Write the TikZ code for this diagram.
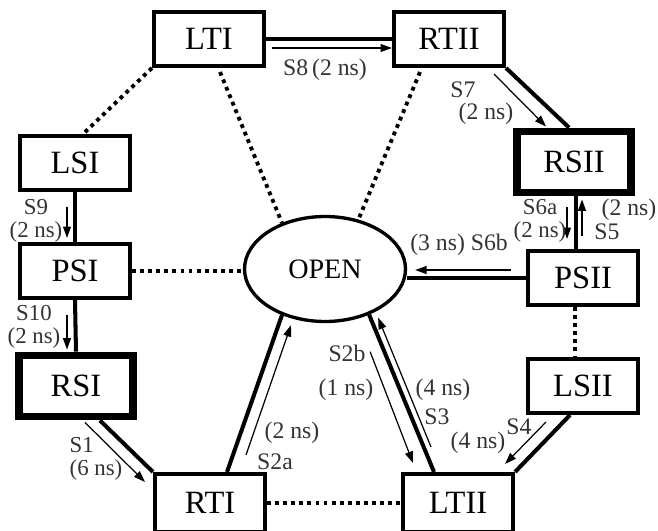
\documentclass[tikz,border=0pt]{standalone}
\usepackage{fontspec}
\setmainfont{Liberation Serif}
\usetikzlibrary{shapes.geometric,arrows.meta,calc}

\begin{document}
\begin{tikzpicture}[x=0.02cm, y=-0.02cm,
    tbox/.style={rectangle, draw=black, line width=2.3pt, minimum width=2.2cm, minimum height=1.08cm, inner sep=0pt, font=\fontsize{18.5}{20}\selectfont},
    rbox/.style={tbox, line width=4.5pt, minimum width=2.28cm, minimum height=1.22cm},
    hub/.style={ellipse, draw=black, line width=1.9pt, minimum width=3.22cm, minimum height=2.1cm, inner sep=0pt, font=\fontsize{16}{18}\selectfont},
    link/.style={line width=2.3pt},
    dotlink/.style={line width=2.2pt, dash pattern=on 2.2pt off 2.4pt},
    trans/.style={-{Triangle[length=6.5pt,width=4.5pt]}, line width=0.7pt},
    lbl/.style={font=\fontsize{13.5}{15}\selectfont, text=black!80, inner sep=0pt},
    lbl2/.style={lbl, align=center, font=\fontsize{13}{13}\selectfont}
]
\useasboundingbox (0,0) rectangle (658,530);
\clip (0,0) rectangle (658,530);

% states
\node[tbox] (LTI) at (209,39) {LTI};
\node[tbox] (RTII) at (449,39) {RTII};
\node[tbox] (LSI) at (75,163) {LSI};
\node[rbox] (RSII) at (574,162) {RSII};
\node[tbox] (PSI) at (75,271) {PSI};
\node[tbox] (PSII) at (583,278) {PSII};
\node[rbox] (RSI) at (76,386) {RSI};
\node[tbox] (LSII) at (583,386) {LSII};
\node[tbox, minimum height=1.16cm] (RTI) at (210,503) {RTI};
\node[tbox, minimum height=1.16cm] (LTII) at (458,503) {LTII};
\node[hub] (OPEN) at (325,269) {OPEN};

% solid paths
\draw[link] (LTI.east) -- (RTII.west);
\draw[link] (RTII.south east) -- ($(RSII.north)+(-5,0)$);
\draw[link] ($(RSII.south)+(2,0)$) -- ($(PSII.north)+(-7,0)$);
\draw[link] (PSII.west) -- (PSII.west -| OPEN.east);
\draw[link] ($(LSII.south)+(-13,0)$) -- (LTII.north east);
\draw[link] ($(LTII.north)+(-24,0)$) -- (OPEN.-46);
\draw[link] ($(RTI.north)+(17,0)$) -- (OPEN.-133);
\draw[link] ($(RSI.south)+(24,0)$) -- (RTI.north west);
\draw[link] (PSI.south) -- (RSI.north);
\draw[link] (LSI.south) -- (PSI.north);

% dotted paths
\draw[dotlink] (LTI.south west) -- ($(LSI.north)+(8,0)$);
\draw[dotlink] ($(LTI.south)+(11,4)$) -- (OPEN.133);
\draw[dotlink] ($(RTII.south)+(-29,4)$) -- (OPEN.56);
\draw[dotlink] (PSI.east) -- (PSI.east -| OPEN.west);
\draw[dotlink] ($(PSII.south)+(-8,0)$) -- ($(LSII.north)+(-8,0)$);
\draw[dotlink] (RTI.east) -- (LTII.west);

% transitions
\draw[trans] ($(LTI.east)+(6,9)$) -- ($(RTII.west)+(0,9)$);
\draw[trans] ($(RTII.south east)+(-12,6)$) -- ($(RSII.north west)+(33,-1)$);
\draw[trans] ($(RSII.south)+(-7,11)$) -- ($(PSII.north)+(-16,-10)$);
\draw[trans] ($(PSII.north)+(-1,-13)$) -- ($(RSII.south)+(8,3)$);
\draw[trans] ($(PSII.west)+(-15,-8)$) -- ($(OPEN.east)+(8,1)$);
\draw[trans] ($(LSII.south)+(-37,7)$) -- ($(LTII.north east)+(-10,-8)$);
\draw[trans] ($(LTII.north)+(-27,-25)$) -- ($(OPEN.-46)+(9,3)$);
\draw[trans] ($(OPEN.-46)+(1,37)$) -- ($(LTII.north)+(-45,-9)$);
\draw[trans] ($(RTI.north)+(36,-17)$) -- ($(OPEN.-133)+(9,10)$);
\draw[trans] ($(RSI.south)+(9,2)$) -- ($(RTI.north west)+(-8,10)$);
\draw[trans] ($(PSI.south)+(-8,15)$) -- ($(RSI.north)+(-9,-2)$);
\draw[trans] ($(LSI.south)+(-8,15)$) -- ($(PSI.north)+(-8,-4)$);

% labels
\node[lbl] (l8) at (325,70) {S8\,(2 ns)};
\node[lbl] (l7) at (463,90) {S7};
\node[lbl] (t7) at (486,114) {(2 ns)};
\node[lbl2] (l6a) at (540,221) {S6a\\(2 ns)};
\node[lbl] (t5) at (629,210) {(2 ns)};
\node[lbl] (l5) at (607,232) {S5};
\node[lbl] (l6b) at (459,245) {(3 ns) S6b};
\node[lbl] (l4) at (519,427) {S4};
\node[lbl] (t4) at (478,443) {(4 ns)};
\node[lbl] (t3) at (443,390) {(4 ns)};
\node[lbl] (l3) at (437,417) {S3};
\node[lbl] (l2b) at (347,353) {S2b};
\node[lbl] (t2b) at (346,390) {(1 ns)};
\node[lbl] (t2a) at (292,433) {(2 ns)};
\node[lbl] (l2a) at (275,462) {S2a};
\node[lbl2, align=left] (l1) at (96,459) {S1\\(6 ns)};
\node[lbl2] (l10) at (34,327) {S10\\(2 ns)};
\node[lbl2] (l9) at (36,221) {S9\\(2 ns)};
\end{tikzpicture}
\end{document}
